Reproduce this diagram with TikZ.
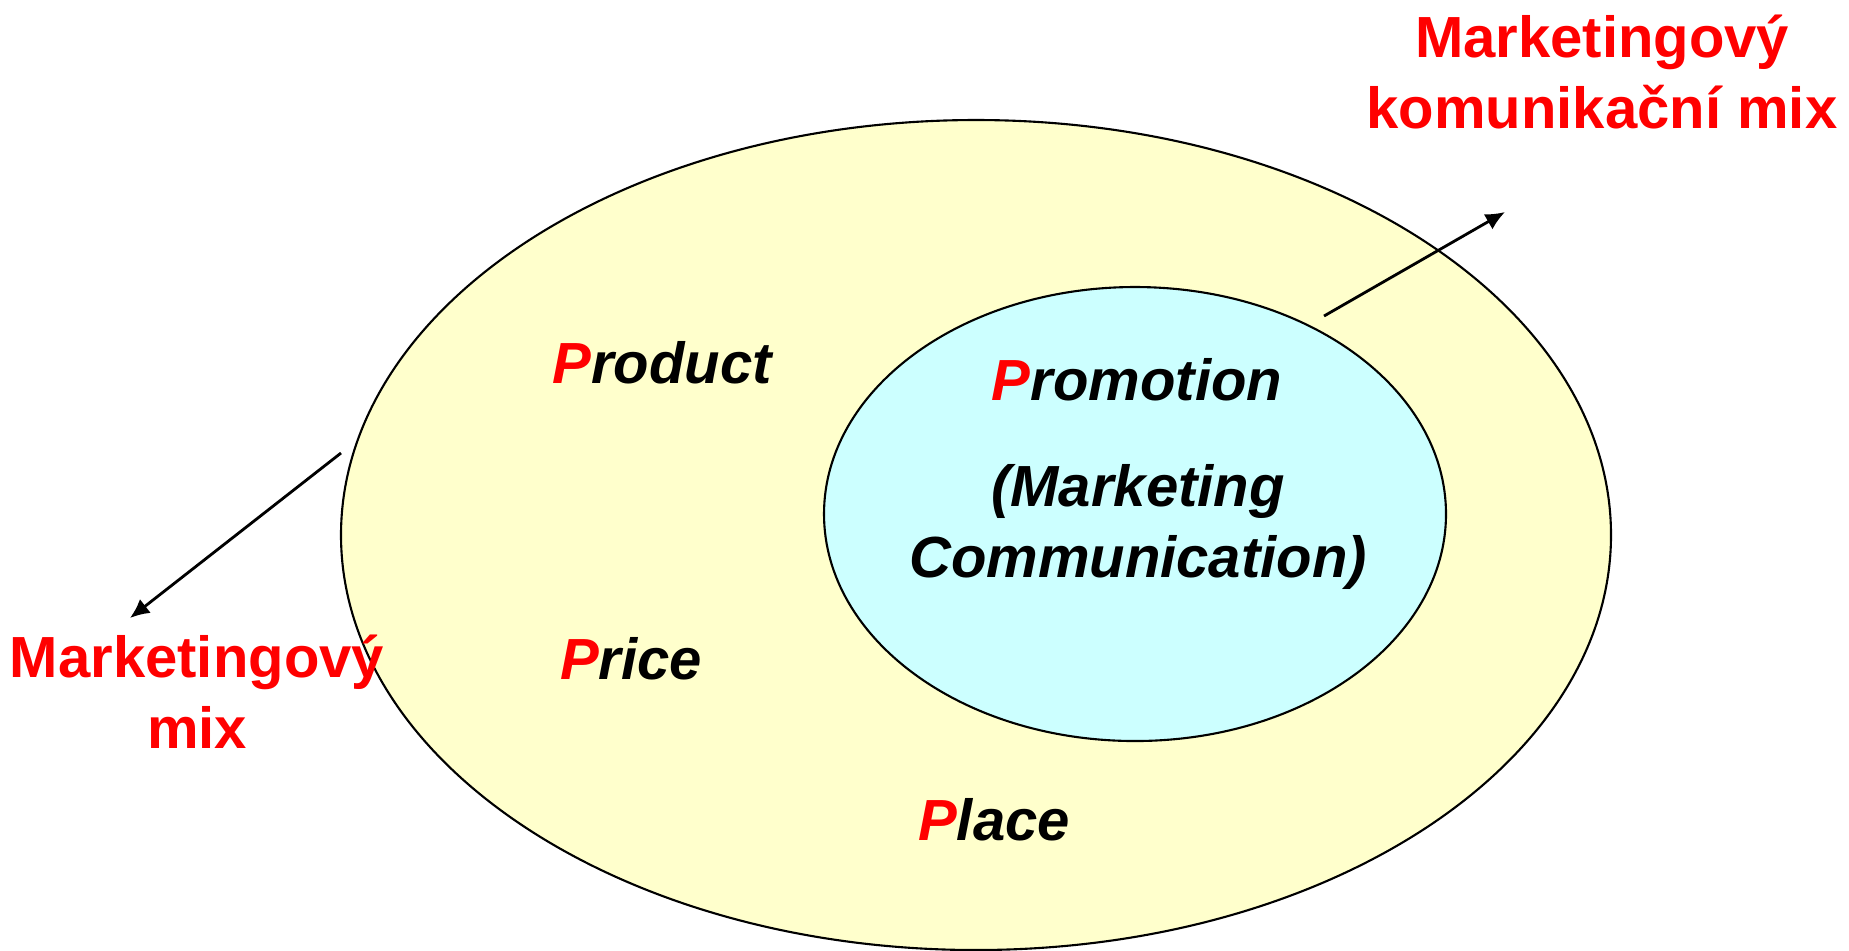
\documentclass[tikz,border=0pt]{standalone}
\usepackage{fontspec}
\usetikzlibrary{arrows.meta}
\setmainfont{Liberation Sans}
\definecolor{mixyellow}{HTML}{FFFFCC}
\definecolor{commcyan}{HTML}{CCFFFF}
\definecolor{pred}{HTML}{FF0000}
\newcommand{\redP}{\textcolor{pred}{P}}
\tikzset{
  pword/.style={anchor=base,inner sep=0pt,font=\fontsize{16.5}{20}\selectfont\bfseries\itshape},
  mixlabel/.style={anchor=base,inner sep=0pt,text=pred,align=center,font=\fontsize{16.5}{20}\selectfont\bfseries}
}
\begin{document}
\begin{tikzpicture}[>={Latex[length=5.5pt,width=5pt]},line width=0.6pt,x=0.01cm,y=-0.01cm]
\useasboundingbox (0,0) rectangle (1849,950);
\draw[fill=mixyellow] (976,535) ellipse[x radius=635,y radius=415];
\draw[fill=commcyan] (1135,514) ellipse[x radius=311,y radius=227];
\node[pword] (product) at (662,383) {\redP roduct};
\node[pword] (price) at (631,679) {\redP rice};
\node[pword] (place) at (994,840) {\redP lace};
\node[pword] (promotion) at (1137,400) {\redP romotion};
% base of a two-line node = baseline of its last line
\node[pword,align=center] (mktcomm) at (1138,577) {(Marketing\\Communication)};
\node[mixlabel] (mixlabel) at (197,748) {Marketingový\\mix};
\node[mixlabel] (commlabel) at (1602,128) {Marketingový\\komunikační mix};
% arrows out to the labels
\coordinate (mixstart) at (341,453);
\coordinate (mixtip) at (130,618);
\coordinate (commstart) at (1324,316);
\coordinate (commtip) at (1505,212);
\draw[->,line width=0.8pt] (mixstart) -- (mixtip);
\draw[->,line width=0.8pt] (commstart) -- (commtip);
\end{tikzpicture}
\end{document}
